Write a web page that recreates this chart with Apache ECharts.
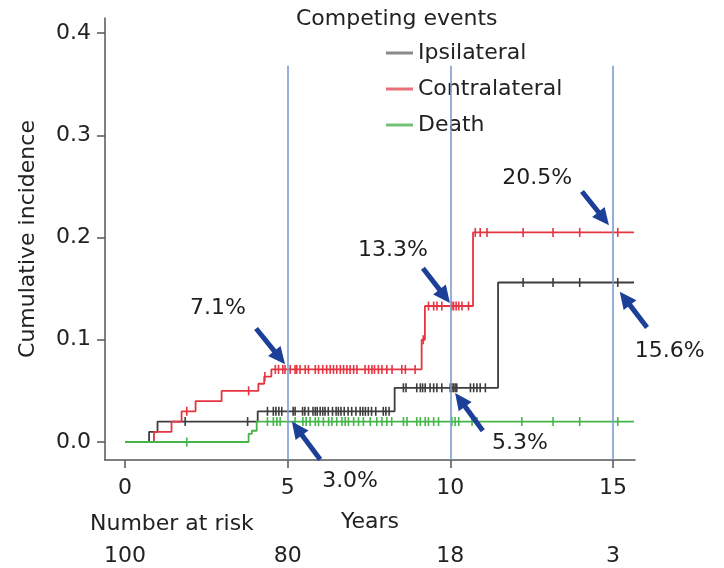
<!DOCTYPE html>
<html>
<head>
<meta charset="utf-8">
<script src="https://cdn.jsdelivr.net/npm/echarts@6/dist/echarts.min.js"></script>
<style>
    html, body { margin: 0; padding: 0; background: #fff; }
    #chart { width: 724px; height: 568px; }
</style>
</head>
<body>
<div id="chart"></div>
<script>
    // step curves: time of each jump and the value after it
    var ipsiTimes = [0, 0.74, 1.0, 4.08, 8.29, 11.47, 15.65];
    var ipsiValues = [0, 0.01, 0.02, 0.03, 0.053, 0.156, 0.156];
    var contraTimes = [0, 0.89, 1.43, 1.74, 2.17, 2.97, 4.1, 4.28, 4.5, 9.12, 9.22, 10.7, 15.65];
    var contraValues = [0, 0.01, 0.02, 0.03, 0.04, 0.05, 0.057, 0.064, 0.071, 0.10, 0.133, 0.205, 0.205];
    var deathTimes = [0, 3.8, 3.9, 4.05, 15.65];
    var deathValues = [0, 0.008, 0.011, 0.02, 0.02];

    // censoring marks (times)
    var ipsiCensor = [1.85, 3.77, 4.38, 4.56, 4.64, 4.73, 4.82, 5.17, 5.23, 5.46, 5.53, 5.64, 5.78, 5.85, 5.91,
        6.0, 6.08, 6.15, 6.25, 6.38, 6.49, 6.56, 6.64, 6.74, 6.86, 6.97, 7.1, 7.23, 7.31, 7.39, 7.48, 7.58,
        7.71, 7.94, 8.02, 8.12, 8.56, 8.64, 8.97, 9.08, 9.15, 9.23, 9.38, 9.49, 9.59, 9.74, 10.0, 10.05,
        10.1, 10.15, 10.2, 10.62, 10.72, 10.82, 10.92, 11.08, 12.24, 13.16, 13.98, 15.15];
    var contraCensor = [1.9, 3.8, 4.3, 4.62, 4.72, 4.85, 4.92, 5.08, 5.23, 5.28, 5.38, 5.54, 5.64, 5.85, 5.95,
        6.08, 6.2, 6.31, 6.41, 6.51, 6.62, 6.72, 6.82, 6.92, 7.03, 7.13, 7.38, 7.49, 7.59, 7.67, 7.79, 7.9,
        8.05, 8.21, 8.51, 8.62, 8.92, 9.17, 9.33, 9.49, 9.59, 9.74, 10.05, 10.1, 10.18, 10.26, 10.36, 10.56,
        10.77, 10.92, 11.13, 12.24, 13.16, 13.98, 15.15];
    var deathCensor = [1.9, 4.38, 4.56, 4.67, 4.77, 5.23, 5.47, 5.57, 5.69, 5.85, 5.95, 6.1, 6.26, 6.36, 6.51,
        6.67, 6.77, 6.87, 7.03, 7.18, 7.33, 7.54, 7.74, 7.9, 8.05, 8.2, 8.56, 8.67, 8.97, 9.08, 9.23, 9.33,
        9.49, 9.64, 10.05, 10.15, 10.26, 10.67, 10.82, 12.2, 13.16, 13.98, 15.15];

    var seriesNames = ['Ipsilateral', 'Contralateral', 'Death'];
    var yTicks = [0, 0.1, 0.2, 0.3, 0.4];
    var xTicks = [0, 5, 10, 15];
    var riskCounts = [100, 80, 18, 3];
    var refYears = [5, 10, 15];

    // arrow annotations: [tail time, tail value, tip time, tip value]
    var arrowLabels = ['7.1%', '13.3%', '20.5%', '15.6%', '5.3%', '3.0%'];
    var arrowPaths = [
        [4.03, 0.111, 4.92, 0.076],
        [9.16, 0.170, 9.99, 0.136],
        [14.05, 0.245, 14.88, 0.212],
        [16.05, 0.112, 15.21, 0.147],
        [11.0, 0.011, 10.15, 0.048],
        [6.0, -0.017, 5.13, 0.020]
    ];
    var labelSpots = [[2.86, 0.131], [8.24, 0.188], [12.67, 0.258], [16.75, 0.089], [12.14, -0.001], [6.92, -0.038]];

    var FONT = 'DejaVu Sans';
    var xMin = -0.615, xMax = 15.68, yMin = -0.0176, yMax = 0.4147;

    function pairs(ts, vs) {
        return ts.map(function (t, i) { return [t, vs[i]]; });
    }
    function stepAt(ts, vs, t) {
        var v = vs[0];
        for (var i = 0; i < ts.length; i++) {
            if (ts[i] <= t) v = vs[i];
        }
        return v;
    }
    function censor(times, ts, vs) {
        return times.map(function (t) { return [t, stepAt(ts, vs, t)]; });
    }

    var colors = { ipsi: '#3d3d3d', contra: '#e63540', death: '#45b54a' };

    var myChart = echarts.init(document.getElementById('chart'));

    function stepLine(name, data, color, z) {
        return {
            name: name, type: 'line', step: 'end', data: data, symbol: 'none', z: z,
            lineStyle: { color: color, width: 1.8 }, itemStyle: { color: color }
        };
    }
    function ticks(data, color, z) {
        return {
            type: 'scatter', data: data, symbol: 'rect', symbolSize: [1.6, 9], z: z,
            itemStyle: { color: color, opacity: 1 }, silent: true
        };
    }

    var refLines = refYears.map(function (yr) {
        return [{ coord: [yr, yMin] }, { coord: [yr, 0.368] }];
    });

    // draws each arrow as a thick shaft plus a filled head
    function renderArrow(params, api) {
        var p1 = api.coord([api.value(0), api.value(1)]);
        var p2 = api.coord([api.value(2), api.value(3)]);
        var dx = p2[0] - p1[0], dy = p2[1] - p1[1];
        var len = Math.sqrt(dx * dx + dy * dy);
        var ux = dx / len, uy = dy / len;
        var headLen = 17, headHalf = 8;
        var bx = p2[0] - ux * headLen, by = p2[1] - uy * headLen;
        return {
            type: 'group',
            children: [
                {
                    type: 'line',
                    shape: { x1: p1[0], y1: p1[1], x2: bx + ux * 2, y2: by + uy * 2 },
                    style: { stroke: '#1c3f98', lineWidth: 5 }
                },
                {
                    type: 'polygon',
                    shape: { points: [[p2[0], p2[1]], [bx - uy * headHalf, by + ux * headHalf], [bx + uy * headHalf, by - ux * headHalf]] },
                    style: { fill: '#1c3f98' }
                }
            ]
        };
    }

    var option = {
        animation: false,
        grid: { left: 105, top: 18, width: 530, height: 442 },
        legend: {
            orient: 'vertical', left: 386, top: 42, itemGap: 14, padding: 0,
            itemWidth: 27, itemHeight: 3, icon: 'rect',
            textStyle: { fontFamily: FONT, fontSize: 22, color: '#222' },
            data: [
                { name: 'Ipsilateral', itemStyle: { color: '#8a8a8a' } },
                { name: 'Contralateral', itemStyle: { color: '#e8707a' } },
                { name: 'Death', itemStyle: { color: '#72c276' } }
            ]
        },
        graphic: [
            { type: 'text', left: 296, top: 8, style: { text: 'Competing events', font: '22px "DejaVu Sans"', fill: '#222' } },
            { type: 'text', left: 90, top: 513, style: { text: 'Number at risk', font: '22px "DejaVu Sans"', fill: '#222' } }
        ],
        xAxis: [
            {
                type: 'value', min: xMin, max: xMax,
                name: 'Years', nameLocation: 'middle', nameGap: 51,
                nameTextStyle: { fontFamily: FONT, fontSize: 22, color: '#222' },
                axisLine: { onZero: false, lineStyle: { color: '#555', width: 1.5 } },
                axisTick: { customValues: xTicks, length: 8, lineStyle: { color: '#555', width: 1.5 } },
                axisLabel: { customValues: xTicks, margin: 17, fontFamily: FONT, fontSize: 22, color: '#222' },
                splitLine: { show: false }
            },
            {
                type: 'value', min: xMin, max: xMax, position: 'bottom',
                axisLine: { show: false }, axisTick: { show: false }, splitLine: { show: false },
                axisLabel: {
                    customValues: xTicks, margin: 85, fontFamily: FONT, fontSize: 22, color: '#222',
                    formatter: function (v) { return String(riskCounts[xTicks.indexOf(v)]); }
                }
            }
        ],
        yAxis: {
            type: 'value', min: yMin, max: yMax,
            name: 'Cumulative incidence', nameLocation: 'middle', nameGap: 66,
            nameTextStyle: { fontFamily: FONT, fontSize: 22, color: '#222' },
            axisLine: { show: true, onZero: false, lineStyle: { color: '#555', width: 1.5 } },
            axisTick: { show: true, customValues: yTicks, length: 8, lineStyle: { color: '#555', width: 1.5 } },
            axisLabel: {
                customValues: yTicks, margin: 14, fontFamily: FONT, fontSize: 22, color: '#222',
                formatter: function (v) { return v.toFixed(1); }
            },
            splitLine: { show: false }
        },
        series: [
            stepLine('Ipsilateral', pairs(ipsiTimes, ipsiValues), colors.ipsi, 2),
            stepLine('Contralateral', pairs(contraTimes, contraValues), colors.contra, 3),
            stepLine('Death', pairs(deathTimes, deathValues), colors.death, 4),
            ticks(censor(ipsiCensor, ipsiTimes, ipsiValues), colors.ipsi, 2),
            ticks(censor(contraCensor, contraTimes, contraValues), colors.contra, 3),
            ticks(censor(deathCensor, deathTimes, deathValues), colors.death, 4),
            {
                type: 'scatter', data: [], z: 1, silent: true,
                markLine: {
                    silent: true, symbol: ['none', 'none'], animation: false,
                    lineStyle: { color: '#7d9bd2', width: 1.6, type: 'solid' },
                    label: { show: false }, data: refLines
                }
            },
            {
                type: 'custom', clip: false, z: 6, silent: true,
                renderItem: renderArrow,
                encode: { x: [0, 2], y: [1, 3] },
                data: arrowPaths
            },
            {
                type: 'scatter', clip: false, z: 6, silent: true, symbolSize: 0,
                itemStyle: { opacity: 1 },
                data: labelSpots.map(function (p, i) { return { value: p, name: arrowLabels[i] }; }),
                label: {
                    show: true, position: 'inside', formatter: '{b}',
                    fontFamily: FONT, fontSize: 22, color: '#1e1e1e'
                }
            }
        ]
    };

    myChart.setOption(option, true);
</script>
</body>
</html>
